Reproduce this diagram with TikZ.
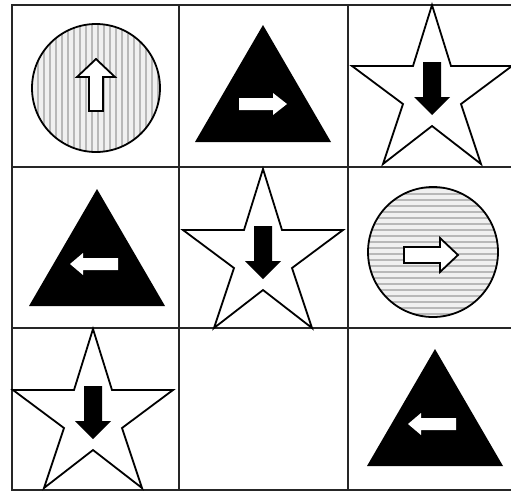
\documentclass[tikz,border=0pt]{standalone}
\begin{document}
\begin{tikzpicture}[x=1pt,y=-1pt]
\tikzset{
  gridline/.style={line width=1.7pt, black!85},
  outline/.style={line width=1.8pt, black},
  stripe/.style={line width=2pt, black!28},
  starpic/.pic={
    \draw[outline, fill=white, line join=miter] (0,0)--(19,61)--(80,61)--(29,99)--(49,159)--(0,121)--(-49,159)--(-29,99)--(-80,61)--(-19,61)--cycle;
    \fill[black] (-9,57)--(9,57)--(9,92)--(18,92)--(0,110)--(-18,92)--(-9,92)--cycle;
  },
  tripic/.pic={
    \fill[black] (0,0)--(-68,117)--(68,117)--cycle;
  },
  rightarr/.pic={
    \fill[white] (-24,73)--(10,73)--(10,68)--(24,79)--(10,90)--(10,85)--(-24,85)--cycle;
  },
  leftarr/.pic={
    \fill[white] (-27,75)--(-14,64)--(-14,69)--(21,69)--(21,81)--(-14,81)--(-14,86)--cycle;
  }
}
\useasboundingbox (0,0) rectangle (511,491);
% grid
\draw[gridline] (12,5) rectangle (516,490);
\draw[gridline] (179,5)--(179,490) (348,5)--(348,490);
\draw[gridline] (12,167)--(516,167) (12,328)--(516,328);
% row 1, col 1 : circle with vertical stripes, outlined up arrow
\begin{scope}
  \clip (96,88) circle[radius=64pt];
  \fill[black!6] (30,22) rectangle (162,154);
  \foreach \i in {0,...,23} \draw[stripe] (32+6*\i,20)--(32+6*\i,156);
\end{scope}
\draw[outline] (96,88) circle[radius=64pt];
\draw[outline, fill=white, line join=miter] (96,59)--(115,77)--(103,77)--(103,111)--(89,111)--(89,77)--(77,77)--cycle;
% row 1, col 2 : triangle with right arrow
\pic at (263,25) {tripic};
\pic at (263,25) {rightarr};
% row 1, col 3 : star
\pic at (432,5) {starpic};
% row 2, col 1 : triangle with left arrow
\pic at (97,189) {tripic};
\pic at (97,189) {leftarr};
% row 2, col 2 : star
\pic at (263,169) {starpic};
% row 2, col 3 : circle with horizontal stripes, outlined right arrow
\begin{scope}
  \clip (433,252) circle[radius=65pt];
  \fill[black!6] (366,185) rectangle (500,319);
  \foreach \i in {0,...,23} \draw[stripe] (366,188+6*\i)--(500,188+6*\i);
\end{scope}
\draw[outline] (433,252) circle[radius=65pt];
\draw[outline, fill=white, line join=miter] (458,255)--(440,272)--(440,263)--(404,263)--(404,247)--(440,247)--(440,238)--cycle;
% row 3, col 1 : star
\pic at (93,329) {starpic};
% row 3, col 3 : triangle with left arrow
\pic at (435,349) {tripic};
\pic at (435,349) {leftarr};
\end{tikzpicture}
\end{document}
